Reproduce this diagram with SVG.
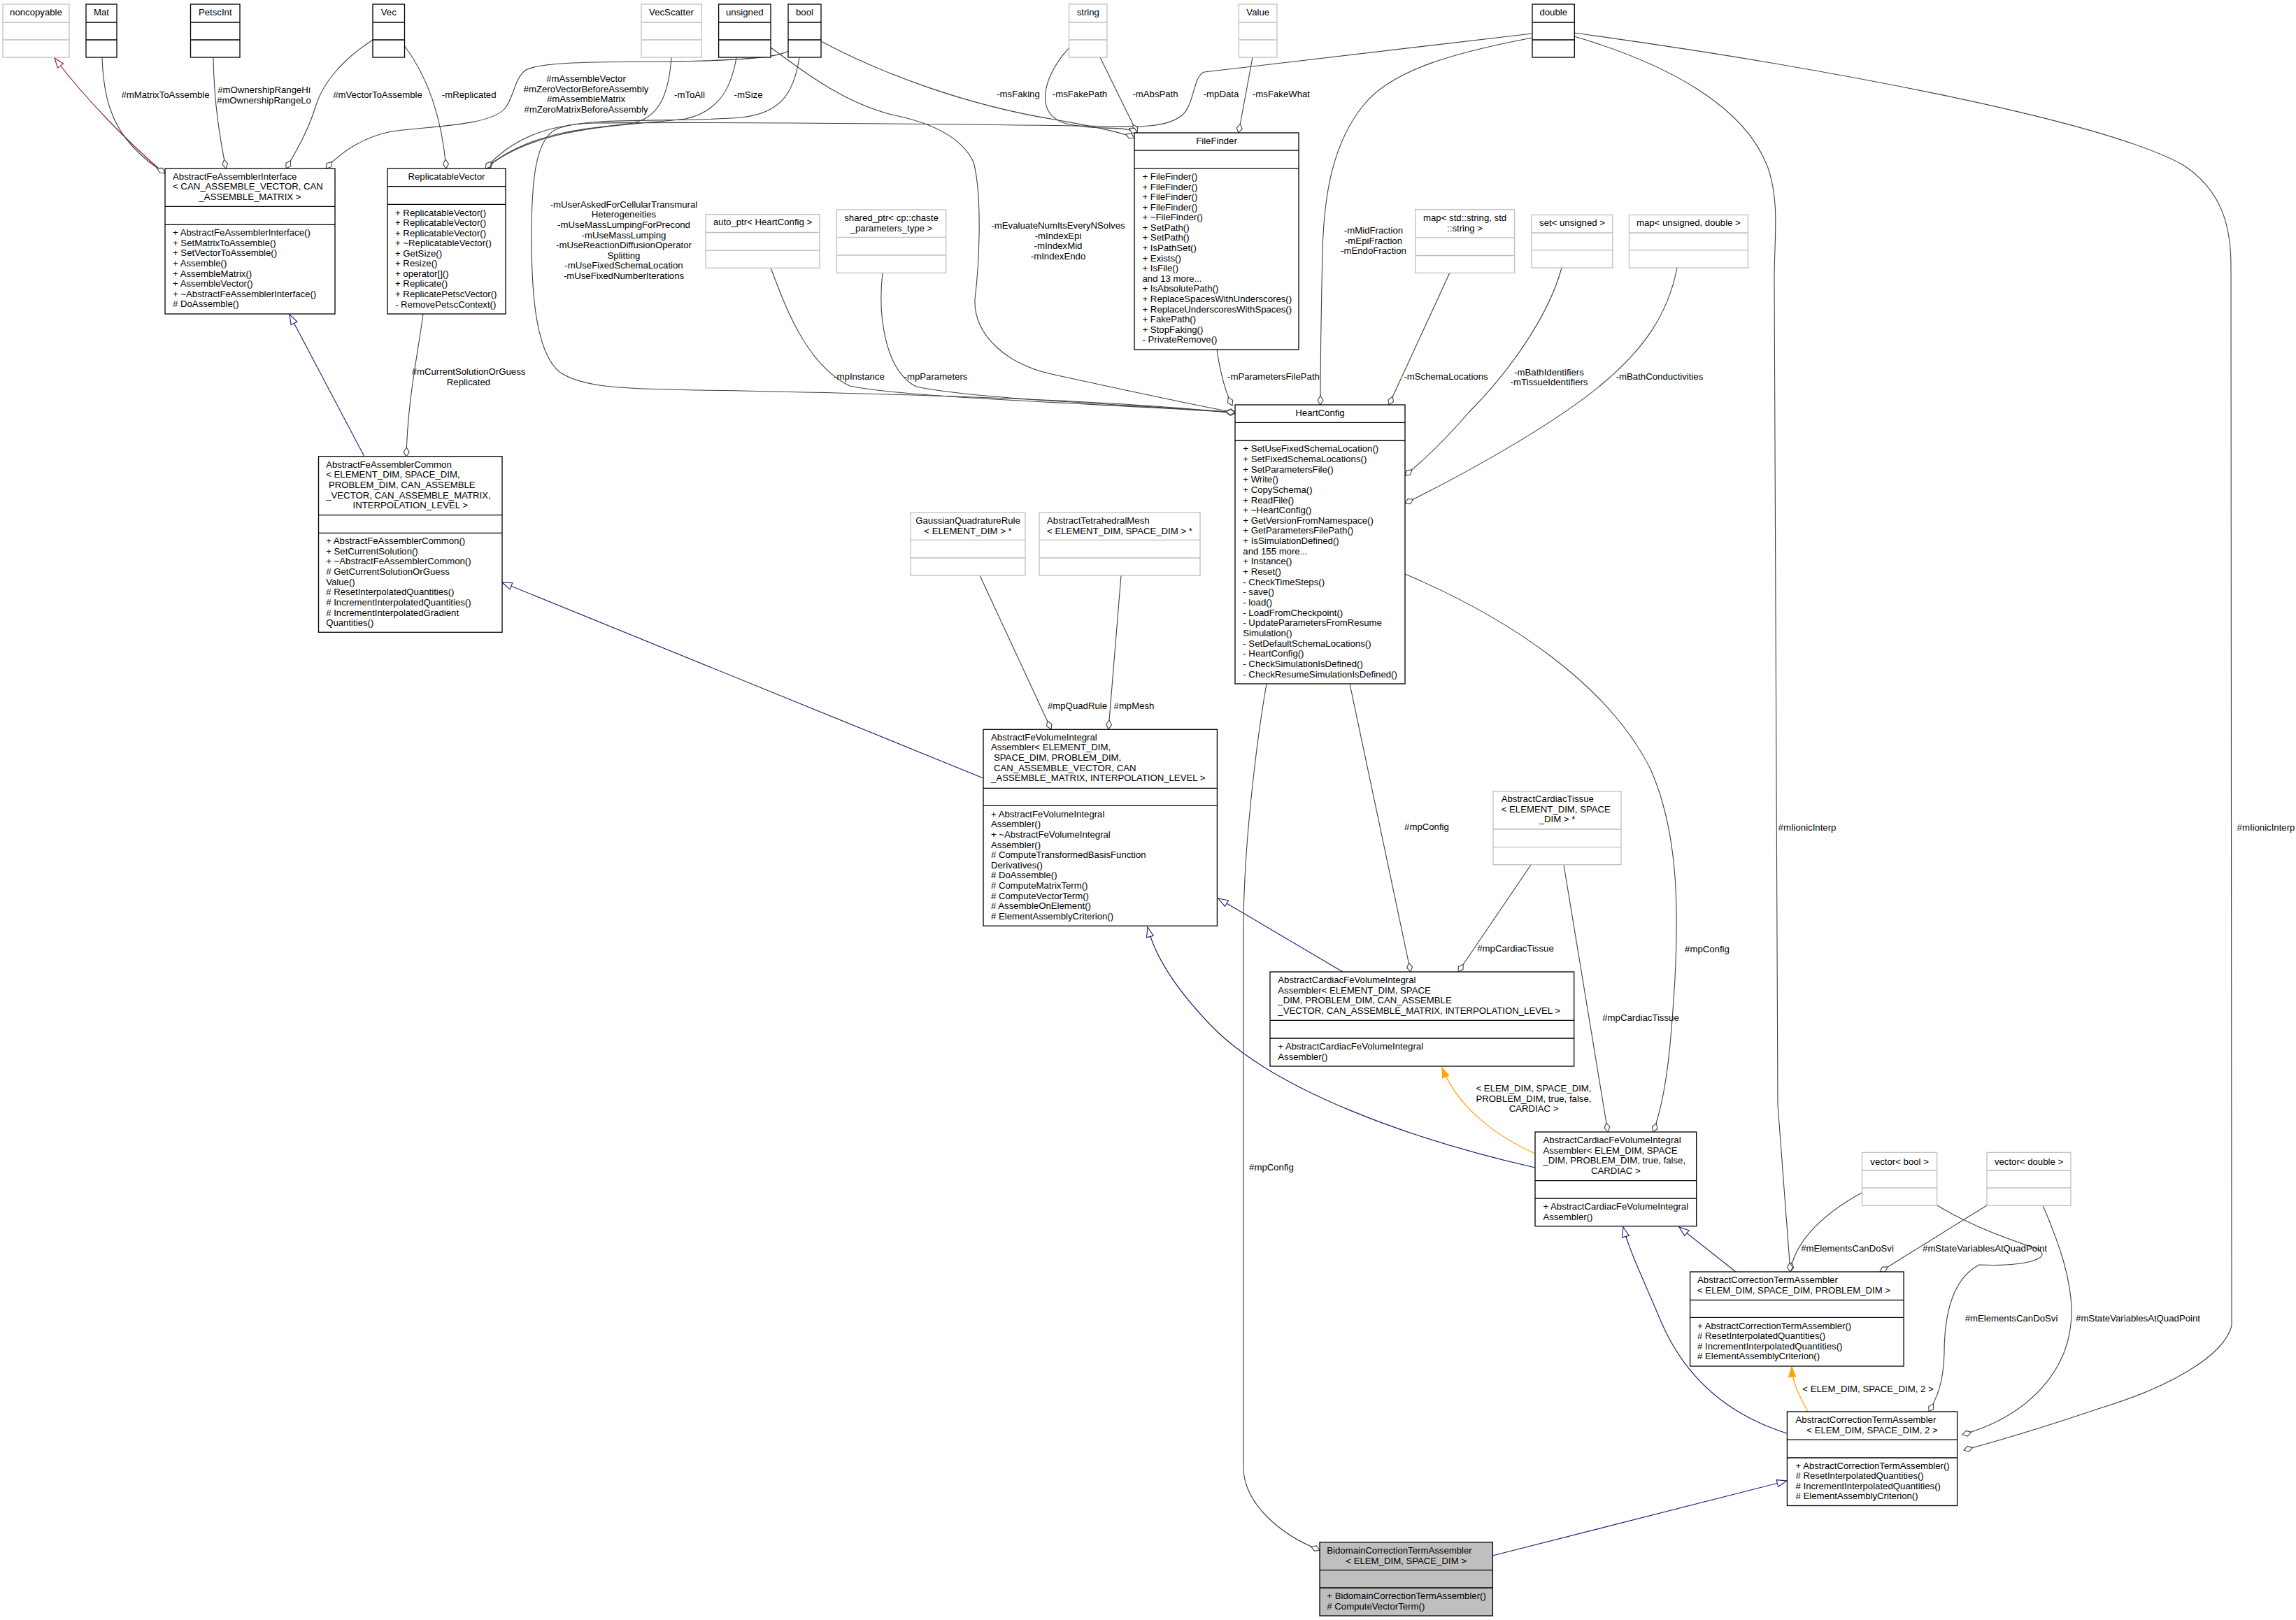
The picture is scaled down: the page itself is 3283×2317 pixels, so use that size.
<svg xmlns="http://www.w3.org/2000/svg" width="3283" height="2317" viewBox="0 0 3283 2317">
<style>
text{font-family:"Liberation Sans",Arial,Helvetica,sans-serif;font-size:13.2px;fill:#000}
.c{text-anchor:middle}
.b{fill:#fff;stroke:#000;stroke-width:1.3}
.g{fill:#fff;stroke:#bfbfbf;stroke-width:1.3}
.gr{fill:#bfbfbf;stroke:#000;stroke-width:1.3}
.bl{stroke:#000;stroke-width:1.3}
.gl{stroke:#bfbfbf;stroke-width:1.3}
.u{fill:none;stroke:#404040;stroke-width:1.1;marker-end:url(#dia)}
.i{fill:none;stroke:#191970;stroke-width:1.1;marker-end:url(#tri)}
.p{fill:none;stroke:#8b1a1a;stroke-width:1.1;marker-end:url(#trip)}
.o{fill:none;stroke:#ffa500;stroke-width:1.3;marker-end:url(#trio)}
</style>
<defs>
<marker id="dia" viewBox="0 0 15 10" refX="14" refY="5" markerWidth="15" markerHeight="10" orient="auto" markerUnits="userSpaceOnUse"><path d="M1,5 L7.5,1 L14,5 L7.5,9 Z" fill="#fff" stroke="#404040" stroke-width="1.1"/></marker>
<marker id="tri" viewBox="0 0 16 12" refX="15" refY="6" markerWidth="16" markerHeight="12" orient="auto" markerUnits="userSpaceOnUse"><path d="M1,1 L15,6 L1,11 Z" fill="#fff" stroke="#191970" stroke-width="1.1"/></marker>
<marker id="trip" viewBox="0 0 16 12" refX="15" refY="6" markerWidth="16" markerHeight="12" orient="auto" markerUnits="userSpaceOnUse"><path d="M1,1 L15,6 L1,11 Z" fill="#fff" stroke="#8b1a1a" stroke-width="1.1"/></marker>
<marker id="trio" viewBox="0 0 16 12" refX="15" refY="6" markerWidth="16" markerHeight="12" orient="auto" markerUnits="userSpaceOnUse"><path d="M1,1 L15,6 L1,11 Z" fill="#ffa500" stroke="#ffa500" stroke-width="1.1"/></marker>
</defs>
<rect width="3283" height="2317" fill="#fff"/>

<g id="edges">
<path class="p" d="M236,249 C185,205 125,145 78,83"/>
<path class="u" d="M146,82 C148,140 160,178 190,210 C205,226 220,238 236,247"/>
<path class="u" d="M305,82 C306,150 315,200 323,241"/>
<path class="u" d="M533,57 C490,85 462,118 452,150 C440,190 420,222 409,241"/>
<path class="u" d="M578,65 C612,110 632,170 638,241"/>
<path class="u" d="M1127,73 C1110,83 1050,87 950,88 C850,89 775,88 752,100 C735,112 735,140 722,155 C700,180 620,180 560,188 C520,196 490,215 466,241"/>
<path class="u" d="M960,82 C956,140 940,168 905,176 C850,184 760,185 694,241"/>
<path class="u" d="M1053,82 C1045,130 1025,160 980,170 C900,180 770,178 694,241"/>
<path class="u" d="M2191,48 L1722,103 C1706,108 1708,150 1690,165 C1665,185 1620,181 1550,180 C1300,177 1000,174 850,176 C780,178 730,200 694,241"/>
<path class="u" d="M1102,68 C1140,95 1200,145 1275,164 C1330,175 1375,195 1392,232 C1405,280 1400,380 1394,428 C1392,480 1440,522 1508,536 C1600,556 1700,578 1766,590"/>
<path class="u" d="M1143,82 C1135,135 1115,162 1060,168 C960,176 840,166 795,185 C765,200 760,260 760,340 C760,430 768,505 800,532 C835,556 900,556 1000,558 C1300,563 1600,573 1766,591"/>
<path class="u" d="M1174,59 C1260,105 1380,150 1508,171 C1560,180 1600,188 1622,197"/>
<path class="u" d="M1573,82 L1626,190"/>
<path class="u" d="M1529,68 C1490,110 1478,165 1525,177 C1570,188 1605,178 1626,190"/>
<path class="u" d="M1791,82 L1771,190"/>
<path class="u" d="M1102,383 C1120,430 1150,520 1215,552 C1300,570 1600,578 1766,590"/>
<path class="u" d="M1262,390 C1255,450 1265,530 1310,553 C1400,572 1650,580 1766,590"/>
<path class="u" d="M1740,500 C1745,535 1752,560 1762,580"/>
<path class="u" d="M2191,54 C2080,75 1990,100 1950,150 C1905,205 1893,280 1891,360 C1889,450 1888,520 1888,579"/>
<path class="u" d="M2073,390 L1986,579"/>
<path class="u" d="M2233,383 C2215,450 2160,530 2100,590 C2070,625 2040,655 2009,680"/>
<path class="u" d="M2398,383 C2385,450 2350,500 2290,550 C2230,600 2120,665 2009,720"/>
<path class="u" d="M605,449 C597,510 583,570 581,653"/>
<path class="i" d="M521,653 L414,450"/>
<path class="i" d="M1406,1113 L718,833"/>
<path class="u" d="M1401,823 L1503,1043"/>
<path class="u" d="M1603,823 L1585,1043"/>
<path class="u" d="M1930,978 L2017,1390"/>
<path class="u" d="M2189,1237 L2085,1390"/>
<path class="u" d="M2009,821 C2160,885 2300,980 2360,1100 C2400,1190 2400,1300 2395,1400 C2390,1480 2385,1560 2364,1619"/>
<path class="u" d="M2236,1237 L2299,1619"/>
<path class="i" d="M1920,1390 L1742,1285"/>
<path class="i" d="M2195,1670 C2020,1630 1820,1560 1730,1465 C1685,1418 1652,1370 1641,1326"/>
<path class="o" d="M2195,1650 C2140,1625 2085,1585 2062,1527"/>
<path class="u" d="M1811,978 C1800,1040 1778,1200 1778,1330 L1778,2100 C1779,2150 1830,2195 1887,2217"/>
<path class="i" d="M2482,1819 L2401,1755"/>
<path class="i" d="M2555,2050 C2460,2020 2405,1960 2375,1890 C2350,1830 2330,1790 2321,1755"/>
<path class="o" d="M2585,2019 C2572,1995 2563,1978 2562,1955"/>
<path class="u" d="M2662,1706 C2600,1740 2565,1780 2560,1819"/>
<path class="u" d="M2251,52 C2380,90 2495,150 2528,240 C2545,290 2537,340 2537,400 L2542,1580 L2560,1819"/>
<path class="u" d="M2251,47 C2600,95 3000,170 3120,235 C3175,270 3190,320 3190,380 L3191,1896 C3180,1940 3100,1985 3000,2015 C2920,2042 2860,2060 2808,2074"/>
<path class="u" d="M2770,1724 C2815,1752 2870,1772 2910,1785 C2940,1798 2900,1812 2830,1809 C2790,1830 2780,1885 2780,1936 C2779,1980 2768,2002 2758,2019"/>
<path class="u" d="M2841,1724 L2688,1819"/>
<path class="u" d="M2921,1724 C2945,1780 2962,1830 2962,1876 C2962,1960 2900,2025 2806,2052"/>
<path class="i" d="M2134,2225 L2555,2118"/>

<g id="edge-labels">
<text class="c" x="236.5" y="139.7">#mMatrixToAssemble</text>
<text class="c" x="377.5" y="132.7">#mOwnershipRangeHi</text>
<text class="c" x="377.5" y="147.5">#mOwnershipRangeLo</text>
<text class="c" x="540" y="139.7">#mVectorToAssemble</text>
<text class="c" x="670.7" y="139.7">-mReplicated</text>
<text class="c" x="838" y="117.2">#mAssembleVector</text>
<text class="c" x="838" y="131.8">#mZeroVectorBeforeAssembly</text>
<text class="c" x="838" y="146.4">#mAssembleMatrix</text>
<text class="c" x="838" y="161">#mZeroMatrixBeforeAssembly</text>
<text class="c" x="986" y="139.7">-mToAll</text>
<text class="c" x="1070" y="139.7">-mSize</text>
<text class="c" x="892" y="296.8">-mUserAskedForCellularTransmural</text>
<text class="c" x="892" y="311.4">Heterogeneities</text>
<text class="c" x="892" y="326">-mUseMassLumpingForPrecond</text>
<text class="c" x="892" y="340.6">-mUseMassLumping</text>
<text class="c" x="892" y="355.2">-mUseReactionDiffusionOperator</text>
<text class="c" x="892" y="369.8">Splitting</text>
<text class="c" x="892" y="384.4">-mUseFixedSchemaLocation</text>
<text class="c" x="892" y="399">-mUseFixedNumberIterations</text>
<text class="c" x="1456" y="139.1">-msFaking</text>
<text class="c" x="1544" y="139.1">-msFakePath</text>
<text class="c" x="1652" y="139.1">-mAbsPath</text>
<text class="c" x="1746" y="139.2">-mpData</text>
<text class="c" x="1832" y="139.2">-msFakeWhat</text>
<text class="c" x="1513" y="327">-mEvaluateNumItsEveryNSolves</text>
<text class="c" x="1513" y="341.6">-mIndexEpi</text>
<text class="c" x="1513" y="356.2">-mIndexMid</text>
<text class="c" x="1513" y="370.8">-mIndexEndo</text>
<text class="c" x="1964" y="334">-mMidFraction</text>
<text class="c" x="1964" y="348.6">-mEpiFraction</text>
<text class="c" x="1964" y="363.2">-mEndoFraction</text>
<text class="c" x="1228.5" y="543.1">-mpInstance</text>
<text class="c" x="1338" y="543.1">-mpParameters</text>
<text class="c" x="1821" y="543">-mParametersFilePath</text>
<text class="c" x="2067.5" y="543">-mSchemaLocations</text>
<text class="c" x="2215" y="536.5">-mBathIdentifiers</text>
<text class="c" x="2215" y="551">-mTissueIdentifiers</text>
<text class="c" x="2373" y="543">-mBathConductivities</text>
<text class="c" x="670" y="536.1">#mCurrentSolutionOrGuess</text>
<text class="c" x="670" y="550.7">Replicated</text>
<text class="c" x="1540.5" y="1013.8">#mpQuadRule</text>
<text class="c" x="1621.5" y="1013.8">#mpMesh</text>
<text class="c" x="2040" y="1187.2">#mpConfig</text>
<text class="c" x="2167" y="1361.2">#mpCardiacTissue</text>
<text class="c" x="2441" y="1361.5">#mpConfig</text>
<text class="c" x="2346" y="1459.5">#mpCardiacTissue</text>
<text class="c" x="2584" y="1187.5">#mIionicInterp</text>
<text class="c" x="3240" y="1187.5">#mIionicInterp</text>
<text class="c" x="2193" y="1561.2">&lt; ELEM_DIM, SPACE_DIM,</text>
<text class="c" x="2193" y="1575.8">PROBLEM_DIM, true, false,</text>
<text class="c" x="2193" y="1590.4">CARDIAC &gt;</text>
<text class="c" x="2641.5" y="1790.2">#mElementsCanDoSvi</text>
<text class="c" x="2838" y="1790.2">#mStateVariablesAtQuadPoint</text>
<text class="c" x="2876" y="1890.2">#mElementsCanDoSvi</text>
<text class="c" x="3057" y="1890.2">#mStateVariablesAtQuadPoint</text>
<text class="c" x="2671" y="1990.5">&lt; ELEM_DIM, SPACE_DIM, 2 &gt;</text>
<text class="c" x="1818" y="1673.5">#mpConfig</text>
</g>
</g>

<g id="noncopyable"><rect class="g" x="4" y="6" width="95" height="76"/><path class="gl" d="M4,32H99M4,57H99"/><text class="c" x="51.5" y="22">noncopyable</text></g>
<g id="Mat"><rect class="b" x="123" y="6" width="44" height="76"/><path class="bl" d="M123,32H167M123,57H167"/><text class="c" x="145" y="22">Mat</text></g>
<g id="PetscInt"><rect class="b" x="272.5" y="6" width="70.5" height="76"/><path class="bl" d="M272.5,32H343M272.5,57H343"/><text class="c" x="307.8" y="22">PetscInt</text></g>
<g id="Vec"><rect class="b" x="533" y="6" width="45.5" height="76"/><path class="bl" d="M533,32H578.5M533,57H578.5"/><text class="c" x="555.8" y="22">Vec</text></g>
<g id="VecScatter"><rect class="g" x="917" y="6" width="86" height="76"/><path class="gl" d="M917,32H1003M917,57H1003"/><text class="c" x="960" y="22">VecScatter</text></g>
<g id="unsigned"><rect class="b" x="1027.6" y="6" width="74.4" height="76"/><path class="bl" d="M1027.6,32H1102M1027.6,57H1102"/><text class="c" x="1064.8" y="22">unsigned</text></g>
<g id="bool"><rect class="b" x="1127" y="6" width="47" height="76"/><path class="bl" d="M1127,32H1174M1127,57H1174"/><text class="c" x="1150.5" y="22">bool</text></g>
<g id="string"><rect class="g" x="1528.6" y="6" width="54.3" height="76"/><path class="gl" d="M1528.6,32H1582.9M1528.6,57H1582.9"/><text class="c" x="1555.8" y="22">string</text></g>
<g id="Value"><rect class="g" x="1771.4" y="6" width="54.5" height="76"/><path class="gl" d="M1771.4,32H1825.9M1771.4,57H1825.9"/><text class="c" x="1798.7" y="22">Value</text></g>
<g id="double"><rect class="b" x="2191" y="6" width="60.3" height="76"/><path class="bl" d="M2191,32H2251.3M2191,57H2251.3"/><text class="c" x="2221.2" y="22">double</text></g>

<g id="AbstractFeAssemblerInterface"><rect class="b" x="236" y="241" width="243" height="208"/><path class="bl" d="M236,295.3H479M236,321.3H479"/>
<text x="247" y="256.8">AbstractFeAssemblerInterface</text>
<text x="247" y="271.4">&lt; CAN_ASSEMBLE_VECTOR, CAN</text>
<text class="c" x="357.5" y="286">_ASSEMBLE_MATRIX &gt;</text>
<text x="247" y="337.2"><tspan x="247">+ AbstractFeAssemblerInterface()</tspan><tspan x="247" dy="14.6">+ SetMatrixToAssemble()</tspan><tspan x="247" dy="14.6">+ SetVectorToAssemble()</tspan><tspan x="247" dy="14.6">+ Assemble()</tspan><tspan x="247" dy="14.6">+ AssembleMatrix()</tspan><tspan x="247" dy="14.6">+ AssembleVector()</tspan><tspan x="247" dy="14.6">+ ~AbstractFeAssemblerInterface()</tspan><tspan x="247" dy="14.6"># DoAssemble()</tspan></text></g>

<g id="ReplicatableVector"><rect class="b" x="554" y="241" width="169" height="208"/><path class="bl" d="M554,266.7H723M554,292.3H723"/>
<text class="c" x="638.5" y="257.2">ReplicatableVector</text>
<text x="565" y="308.5"><tspan x="565">+ ReplicatableVector()</tspan><tspan x="565" dy="14.56">+ ReplicatableVector()</tspan><tspan x="565" dy="14.56">+ ReplicatableVector()</tspan><tspan x="565" dy="14.56">+ ~ReplicatableVector()</tspan><tspan x="565" dy="14.56">+ GetSize()</tspan><tspan x="565" dy="14.56">+ Resize()</tspan><tspan x="565" dy="14.56">+ operator[]()</tspan><tspan x="565" dy="14.56">+ Replicate()</tspan><tspan x="565" dy="14.56">+ ReplicatePetscVector()</tspan><tspan x="565" dy="14.56">- RemovePetscContext()</tspan></text></g>

<g id="FileFinder"><rect class="b" x="1622" y="190" width="235" height="310"/><path class="bl" d="M1622,215.2H1857M1622,240.6H1857"/>
<text class="c" x="1739.5" y="206.3">FileFinder</text>
<text x="1633.5" y="257"><tspan x="1633.5">+ FileFinder()</tspan><tspan x="1633.5" dy="14.58">+ FileFinder()</tspan><tspan x="1633.5" dy="14.58">+ FileFinder()</tspan><tspan x="1633.5" dy="14.58">+ FileFinder()</tspan><tspan x="1633.5" dy="14.58">+ ~FileFinder()</tspan><tspan x="1633.5" dy="14.58">+ SetPath()</tspan><tspan x="1633.5" dy="14.58">+ SetPath()</tspan><tspan x="1633.5" dy="14.58">+ IsPathSet()</tspan><tspan x="1633.5" dy="14.58">+ Exists()</tspan><tspan x="1633.5" dy="14.58">+ IsFile()</tspan><tspan x="1633.5" dy="14.58">and 13 more...</tspan><tspan x="1633.5" dy="14.58">+ IsAbsolutePath()</tspan><tspan x="1633.5" dy="14.58">+ ReplaceSpacesWithUnderscores()</tspan><tspan x="1633.5" dy="14.58">+ ReplaceUnderscoresWithSpaces()</tspan><tspan x="1633.5" dy="14.58">+ FakePath()</tspan><tspan x="1633.5" dy="14.58">+ StopFaking()</tspan><tspan x="1633.5" dy="14.58">- PrivateRemove()</tspan></text></g>

<g id="auto_ptr_HeartConfig"><rect class="g" x="1009" y="306.7" width="163" height="76.6"/><path class="gl" d="M1009,332.5H1172M1009,358H1172"/><text class="c" x="1090.5" y="322.4">auto_ptr&lt; HeartConfig &gt;</text></g>
<g id="shared_ptr_params"><rect class="g" x="1196.3" y="300" width="156.4" height="90.4"/><path class="gl" d="M1196.3,339.3H1352.7M1196.3,365H1352.7"/><text class="c" x="1274.5" y="316.3">shared_ptr&lt; cp::chaste</text><text class="c" x="1274.5" y="331.1">_parameters_type &gt;</text></g>
<g id="map_string_string"><rect class="g" x="2023.7" y="299.7" width="141.9" height="90.7"/><path class="gl" d="M2023.7,339.8H2165.6M2023.7,365.5H2165.6"/><text class="c" x="2094.6" y="316.4">map&lt; std::string, std</text><text class="c" x="2094.6" y="331.4">::string &gt;</text></g>
<g id="set_unsigned"><rect class="g" x="2190" y="307.3" width="115.8" height="75.7"/><path class="gl" d="M2190,333H2305.8M2190,357.8H2305.8"/><text class="c" x="2248" y="323.3">set&lt; unsigned &gt;</text></g>
<g id="map_unsigned_double"><rect class="g" x="2329.5" y="307.3" width="169.8" height="75.7"/><path class="gl" d="M2329.5,333H2499.3M2329.5,357.8H2499.3"/><text class="c" x="2414.4" y="323.3">map&lt; unsigned, double &gt;</text></g>

<g id="HeartConfig"><rect class="b" x="1766" y="579" width="243" height="399"/><path class="bl" d="M1766,604.3H2009M1766,630H2009"/>
<text class="c" x="1887.5" y="595.2">HeartConfig</text>
<text x="1777.3" y="646.2"><tspan x="1777.3">+ SetUseFixedSchemaLocation()</tspan><tspan x="1777.3" dy="14.66">+ SetFixedSchemaLocations()</tspan><tspan x="1777.3" dy="14.66">+ SetParametersFile()</tspan><tspan x="1777.3" dy="14.66">+ Write()</tspan><tspan x="1777.3" dy="14.66">+ CopySchema()</tspan><tspan x="1777.3" dy="14.66">+ ReadFile()</tspan><tspan x="1777.3" dy="14.66">+ ~HeartConfig()</tspan><tspan x="1777.3" dy="14.66">+ GetVersionFromNamespace()</tspan><tspan x="1777.3" dy="14.66">+ GetParametersFilePath()</tspan><tspan x="1777.3" dy="14.66">+ IsSimulationDefined()</tspan><tspan x="1777.3" dy="14.66">and 155 more...</tspan><tspan x="1777.3" dy="14.66">+ Instance()</tspan><tspan x="1777.3" dy="14.66">+ Reset()</tspan><tspan x="1777.3" dy="14.66">- CheckTimeSteps()</tspan><tspan x="1777.3" dy="14.66">- save()</tspan><tspan x="1777.3" dy="14.66">- load()</tspan><tspan x="1777.3" dy="14.66">- LoadFromCheckpoint()</tspan><tspan x="1777.3" dy="14.66">- UpdateParametersFromResume</tspan><tspan x="1777.3" dy="14.66">Simulation()</tspan><tspan x="1777.3" dy="14.66">- SetDefaultSchemaLocations()</tspan><tspan x="1777.3" dy="14.66">- HeartConfig()</tspan><tspan x="1777.3" dy="14.66">- CheckSimulationIsDefined()</tspan><tspan x="1777.3" dy="14.66">- CheckResumeSimulationIsDefined()</tspan></text></g>

<g id="AbstractFeAssemblerCommon"><rect class="b" x="455.5" y="652.7" width="262.5" height="251.6"/><path class="bl" d="M455.5,736.7H718M455.5,762.3H718"/>
<text x="466.2" y="668.8">AbstractFeAssemblerCommon</text>
<text x="466.2" y="683.4">&lt; ELEMENT_DIM, SPACE_DIM,</text>
<text x="470" y="698">PROBLEM_DIM, CAN_ASSEMBLE</text>
<text x="466.2" y="712.6">_VECTOR, CAN_ASSEMBLE_MATRIX,</text>
<text class="c" x="586.8" y="727.2">INTERPOLATION_LEVEL &gt;</text>
<text x="466.2" y="778.2"><tspan x="466.2">+ AbstractFeAssemblerCommon()</tspan><tspan x="466.2" dy="14.625">+ SetCurrentSolution()</tspan><tspan x="466.2" dy="14.625">+ ~AbstractFeAssemblerCommon()</tspan><tspan x="466.2" dy="14.625"># GetCurrentSolutionOrGuess</tspan><tspan x="466.2" dy="14.625">Value()</tspan><tspan x="466.2" dy="14.625"># ResetInterpolatedQuantities()</tspan><tspan x="466.2" dy="14.625"># IncrementInterpolatedQuantities()</tspan><tspan x="466.2" dy="14.625"># IncrementInterpolatedGradient</tspan><tspan x="466.2" dy="14.625">Quantities()</tspan></text></g>

<g id="GaussianQuadratureRule"><rect class="g" x="1302" y="733" width="164" height="90"/><path class="gl" d="M1302,772.3H1466M1302,798H1466"/><text class="c" x="1384" y="749.3">GaussianQuadratureRule</text><text class="c" x="1384" y="764.1">&lt; ELEMENT_DIM &gt; *</text></g>
<g id="AbstractTetrahedralMesh"><rect class="g" x="1486" y="733" width="230" height="90"/><path class="gl" d="M1486,772.3H1716M1486,798H1716"/><text x="1497" y="749.3">AbstractTetrahedralMesh</text><text class="c" x="1601" y="764.1">&lt; ELEMENT_DIM, SPACE_DIM &gt; *</text></g>

<g id="AbstractFeVolumeIntegralAssembler"><rect class="b" x="1406" y="1043.3" width="334.4" height="281"/><path class="bl" d="M1406,1127.3H1740.4M1406,1152.3H1740.4"/>
<text x="1417" y="1058.8">AbstractFeVolumeIntegral</text>
<text x="1417" y="1073.4">Assembler&lt; ELEMENT_DIM,</text>
<text x="1421" y="1088">SPACE_DIM, PROBLEM_DIM,</text>
<text x="1421" y="1102.6">CAN_ASSEMBLE_VECTOR, CAN</text>
<text x="1417" y="1117.2">_ASSEMBLE_MATRIX, INTERPOLATION_LEVEL &gt;</text>
<text x="1417" y="1168.8"><tspan x="1417">+ AbstractFeVolumeIntegral</tspan><tspan x="1417" dy="14.6">Assembler()</tspan><tspan x="1417" dy="14.6">+ ~AbstractFeVolumeIntegral</tspan><tspan x="1417" dy="14.6">Assembler()</tspan><tspan x="1417" dy="14.6"># ComputeTransformedBasisFunction</tspan><tspan x="1417" dy="14.6">Derivatives()</tspan><tspan x="1417" dy="14.6"># DoAssemble()</tspan><tspan x="1417" dy="14.6"># ComputeMatrixTerm()</tspan><tspan x="1417" dy="14.6"># ComputeVectorTerm()</tspan><tspan x="1417" dy="14.6"># AssembleOnElement()</tspan><tspan x="1417" dy="14.6"># ElementAssemblyCriterion()</tspan></text></g>

<g id="AbstractCardiacTissue"><rect class="g" x="2135" y="1131.7" width="183" height="105"/><path class="gl" d="M2135,1186H2318M2135,1211.7H2318"/>
<text x="2146.7" y="1147.2">AbstractCardiacTissue</text>
<text x="2146.7" y="1161.8">&lt; ELEMENT_DIM, SPACE</text>
<text class="c" x="2226.5" y="1176.4">_DIM &gt; *</text></g>

<g id="AbstractCardiacFeVolumeIntegralAssembler"><rect class="b" x="1816" y="1390" width="434.7" height="135"/><path class="bl" d="M1816,1459.3H2250.7M1816,1485H2250.7"/>
<text x="1827.3" y="1406.2">AbstractCardiacFeVolumeIntegral</text>
<text x="1827.3" y="1420.8">Assembler&lt; ELEMENT_DIM, SPACE</text>
<text x="1827.3" y="1435.4">_DIM, PROBLEM_DIM, CAN_ASSEMBLE</text>
<text x="1827.3" y="1450">_VECTOR, CAN_ASSEMBLE_MATRIX, INTERPOLATION_LEVEL &gt;</text>
<text x="1827.3" y="1501.2">+ AbstractCardiacFeVolumeIntegral</text>
<text x="1827.3" y="1515.8">Assembler()</text></g>

<g id="AbstractCardiacFeVolumeIntegralAssembler_CARDIAC"><rect class="b" x="2195" y="1619" width="230.7" height="134.7"/><path class="bl" d="M2195,1688.7H2425.7M2195,1714H2425.7"/>
<text x="2206.4" y="1635.2">AbstractCardiacFeVolumeIntegral</text>
<text x="2206.4" y="1649.8">Assembler&lt; ELEM_DIM, SPACE</text>
<text x="2206.4" y="1664.4">_DIM, PROBLEM_DIM, true, false,</text>
<text class="c" x="2310.4" y="1679">CARDIAC &gt;</text>
<text x="2206.4" y="1730.2">+ AbstractCardiacFeVolumeIntegral</text>
<text x="2206.4" y="1744.8">Assembler()</text></g>

<g id="vector_bool"><rect class="g" x="2662.5" y="1648.4" width="107.2" height="76"/><path class="gl" d="M2662.5,1674H2769.7M2662.5,1699H2769.7"/><text class="c" x="2716.1" y="1665.5">vector&lt; bool &gt;</text></g>
<g id="vector_double"><rect class="g" x="2841" y="1648.4" width="120" height="76"/><path class="gl" d="M2841,1674H2961M2841,1699H2961"/><text class="c" x="2901" y="1665.5">vector&lt; double &gt;</text></g>

<g id="AbstractCorrectionTermAssembler_PROBLEM_DIM"><rect class="b" x="2416.6" y="1819" width="305.5" height="135"/><path class="bl" d="M2416.6,1859.3H2722.1M2416.6,1884.3H2722.1"/>
<text x="2427" y="1834.5">AbstractCorrectionTermAssembler</text>
<text x="2427" y="1849.5">&lt; ELEM_DIM, SPACE_DIM, PROBLEM_DIM &gt;</text>
<text x="2427" y="1900.5"><tspan x="2427">+ AbstractCorrectionTermAssembler()</tspan><tspan x="2427" dy="14.6"># ResetInterpolatedQuantities()</tspan><tspan x="2427" dy="14.6"># IncrementInterpolatedQuantities()</tspan><tspan x="2427" dy="14.6"># ElementAssemblyCriterion()</tspan></text></g>

<g id="AbstractCorrectionTermAssembler_2"><rect class="b" x="2555.4" y="2019" width="243.2" height="134.5"/><path class="bl" d="M2555.4,2059.2H2798.6M2555.4,2085H2798.6"/>
<text x="2567.5" y="2035.3">AbstractCorrectionTermAssembler</text>
<text class="c" x="2677" y="2050.3">&lt; ELEM_DIM, SPACE_DIM, 2 &gt;</text>
<text x="2567.5" y="2100.5"><tspan x="2567.5">+ AbstractCorrectionTermAssembler()</tspan><tspan x="2567.5" dy="14.6"># ResetInterpolatedQuantities()</tspan><tspan x="2567.5" dy="14.6"># IncrementInterpolatedQuantities()</tspan><tspan x="2567.5" dy="14.6"># ElementAssemblyCriterion()</tspan></text></g>

<g id="BidomainCorrectionTermAssembler"><rect class="gr" x="1887" y="2205.7" width="247.4" height="105.3"/><path class="bl" d="M1887,2245.7H2134.4M1887,2271H2134.4"/>
<text x="1897.3" y="2222.2">BidomainCorrectionTermAssembler</text>
<text class="c" x="2010.7" y="2237.2">&lt; ELEM_DIM, SPACE_DIM &gt;</text>
<text x="1897.3" y="2287.2">+ BidomainCorrectionTermAssembler()</text>
<text x="1897.3" y="2301.8"># ComputeVectorTerm()</text></g>
</svg>
